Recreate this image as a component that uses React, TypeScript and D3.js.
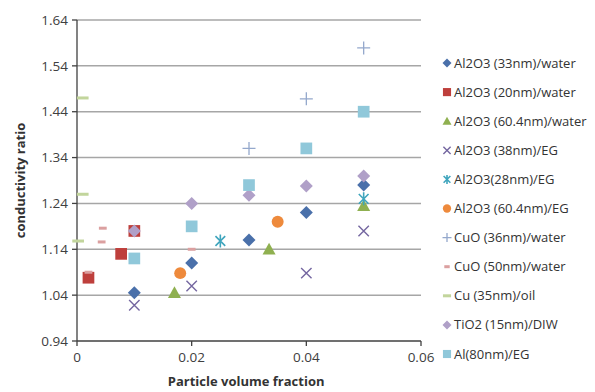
import React from "react";
import * as d3 from "d3";

const width = 595;
const height = 392;
const margin = { top: 20, right: 174, bottom: 51, left: 77 };

const xTicks = [0, 0.02, 0.04, 0.06];
const yTicks = [0.94, 1.04, 1.14, 1.24, 1.34, 1.44, 1.54, 1.64];

const al33water = [[0.01, 1.045], [0.02, 1.11], [0.03, 1.16], [0.04, 1.22], [0.05, 1.28]];
const al20water = [[0.002, 1.078], [0.0077, 1.13], [0.01, 1.18]];
const al60water = [[0.017, 1.045], [0.0335, 1.14], [0.05, 1.235]];
const al38eg = [[0.01, 1.018], [0.02, 1.06], [0.04, 1.088], [0.05, 1.18]];
const al28eg = [[0.025, 1.158], [0.05, 1.25]];
const al60eg = [[0.018, 1.088], [0.035, 1.2]];
const cuo36water = [[0.03, 1.36], [0.04, 1.468], [0.05, 1.579]];
const cuo50water = [[0.0045, 1.186], [0.0043, 1.156], [0.002, 1.09], [0.02, 1.14]];
const cu35oil = [[0.001, 1.47], [0.001, 1.26], [0.0002, 1.158]];
const tio2diw = [[0.01, 1.18], [0.02, 1.24], [0.03, 1.258], [0.04, 1.278], [0.05, 1.3]];
const al80eg = [[0.01, 1.12], [0.02, 1.19], [0.03, 1.28], [0.04, 1.36], [0.05, 1.44]];

const series = [
  { name: "Al2O3 (33nm)/water", data: al33water, shape: "diamond", color: "#4a70aa" },
  { name: "Al2O3 (20nm)/water", data: al20water, shape: "square", color: "#be3f3c" },
  { name: "Al2O3 (60.4nm)/water", data: al60water, shape: "triangle", color: "#8fb050" },
  { name: "Al2O3 (38nm)/EG", data: al38eg, shape: "x", color: "#7466a0" },
  { name: "Al2O3(28nm)/EG", data: al28eg, shape: "star", color: "#3fa5bd" },
  { name: "Al2O3 (60.4nm)/EG", data: al60eg, shape: "circle", color: "#ee8a3c" },
  { name: "CuO (36nm)/water", data: cuo36water, shape: "plus", color: "#94a8cc" },
  { name: "CuO (50nm)/water", data: cuo50water, shape: "dash", color: "#dba0a0" },
  { name: "Cu (35nm)/oil", data: cu35oil, shape: "longdash", color: "#c2d59c" },
  { name: "TiO2 (15nm)/DIW", data: tio2diw, shape: "diamond", color: "#b0a0c8" },
  { name: "Al(80nm)/EG", data: al80eg, shape: "square", color: "#90c8da" },
];

const Marker = ({ shape, color, x, y, s }) => {
  const h = s / 2;
  switch (shape) {
    case "diamond":
      return <path d={`M${x},${y - h}L${x + h},${y}L${x},${y + h}L${x - h},${y}Z`} fill={color} />;
    case "square":
      return <rect x={x - h * 0.9} y={y - h * 0.9} width={s * 0.9} height={s * 0.9} fill={color} />;
    case "triangle":
      return <path d={`M${x},${y - h}L${x + h},${y + h * 0.8}L${x - h},${y + h * 0.8}Z`} fill={color} />;
    case "circle":
      return <circle cx={x} cy={y} r={h * 0.92} fill={color} />;
    case "x": {
      const k = h * 0.8;
      return <path d={`M${x - k},${y - k}L${x + k},${y + k}M${x - k},${y + k}L${x + k},${y - k}`} stroke={color} strokeWidth={1.4} />;
    }
    case "star": {
      const k = h * 0.75;
      return (
        <path
          d={`M${x - k},${y - k}L${x + k},${y + k}M${x - k},${y + k}L${x + k},${y - k}M${x},${y - h}L${x},${y + h}`}
          stroke={color}
          strokeWidth={1.6}
        />
      );
    }
    case "plus":
      return <path d={`M${x - h},${y}L${x + h},${y}M${x},${y - h}L${x},${y + h}`} stroke={color} strokeWidth={1.3} />;
    case "dash":
      return <rect x={x - s * 0.3} y={y - 1.5} width={s * 0.6} height={3} fill={color} />;
    case "longdash":
      return <rect x={x - s * 0.45} y={y - 1.5} width={s * 0.9} height={3} fill={color} />;
    default:
      return null;
  }
};

const App = () => {
  const x = d3.scaleLinear().domain([0, 0.06]).range([margin.left, width - margin.right]);
  const y = d3.scaleLinear().domain([0.94, 1.64]).range([height - margin.bottom, margin.top]);
  const font = "'Open Sans', 'Liberation Sans', sans-serif";
  const legendY = d3.scalePoint().domain(series.map((s) => s.name)).range([63, 354]);

  return (
    <svg width={width} height={height} style={{ position: "absolute", left: 0, top: 0, background: "#fff" }}>
      {yTicks.slice(1).map((t) => (
        <line key={t} x1={x(0)} x2={x(0.06)} y1={y(t)} y2={y(t)} stroke="#a6a6a6" strokeWidth={1.5} />
      ))}
      <line x1={x(0)} x2={x(0.06)} y1={y(0.94)} y2={y(0.94)} stroke="#404040" strokeWidth={1.3} />
      <line x1={x(0)} x2={x(0)} y1={y(0.94)} y2={y(1.64)} stroke="#404040" strokeWidth={1.3} />
      {yTicks.map((t) => (
        <g key={t}>
          <line x1={x(0) - 5} x2={x(0)} y1={y(t)} y2={y(t)} stroke="#404040" strokeWidth={1.3} />
          <text x={x(0) - 9} y={y(t)} dy="0.35em" textAnchor="end" fontFamily={font} fontSize={13.5} fill="#404040">
            {t.toFixed(2)}
          </text>
        </g>
      ))}
      {xTicks.map((t) => (
        <g key={t}>
          <line x1={x(t)} x2={x(t)} y1={y(0.94)} y2={y(0.94) + 5} stroke="#404040" strokeWidth={1.3} />
          <text x={x(t)} y={y(0.94) + 21} textAnchor="middle" fontFamily={font} fontSize={13.5} fill="#404040">
            {t === 0 ? "0" : t.toFixed(2)}
          </text>
        </g>
      ))}
      <text x={x(0.0295)} y={386} textAnchor="middle" fontFamily={font} fontSize={13} fontWeight="bold" fill="#333">
        Particle volume fraction
      </text>
      <text
        transform={`translate(25,${y(1.29)}) rotate(-90)`}
        textAnchor="middle"
        fontFamily={font}
        fontSize={13}
        fontWeight="bold"
        fill="#333"
      >
        conductivity ratio
      </text>
      {series.map((s) => (
        <g key={s.name}>
          {s.data.map((d, i) => (
            <Marker key={i} shape={s.shape} color={s.color} x={x(d[0])} y={y(d[1])} s={13} />
          ))}
        </g>
      ))}
      {series.map((s) => (
        <g key={s.name}>
          <Marker shape={s.shape} color={s.color} x={447} y={legendY(s.name)} s={9} />
          <text x={454} y={legendY(s.name)} dy="0.35em" fontFamily={font} fontSize={13} fill="#333">
            {s.name}
          </text>
        </g>
      ))}
    </svg>
  );
};

export default App;
